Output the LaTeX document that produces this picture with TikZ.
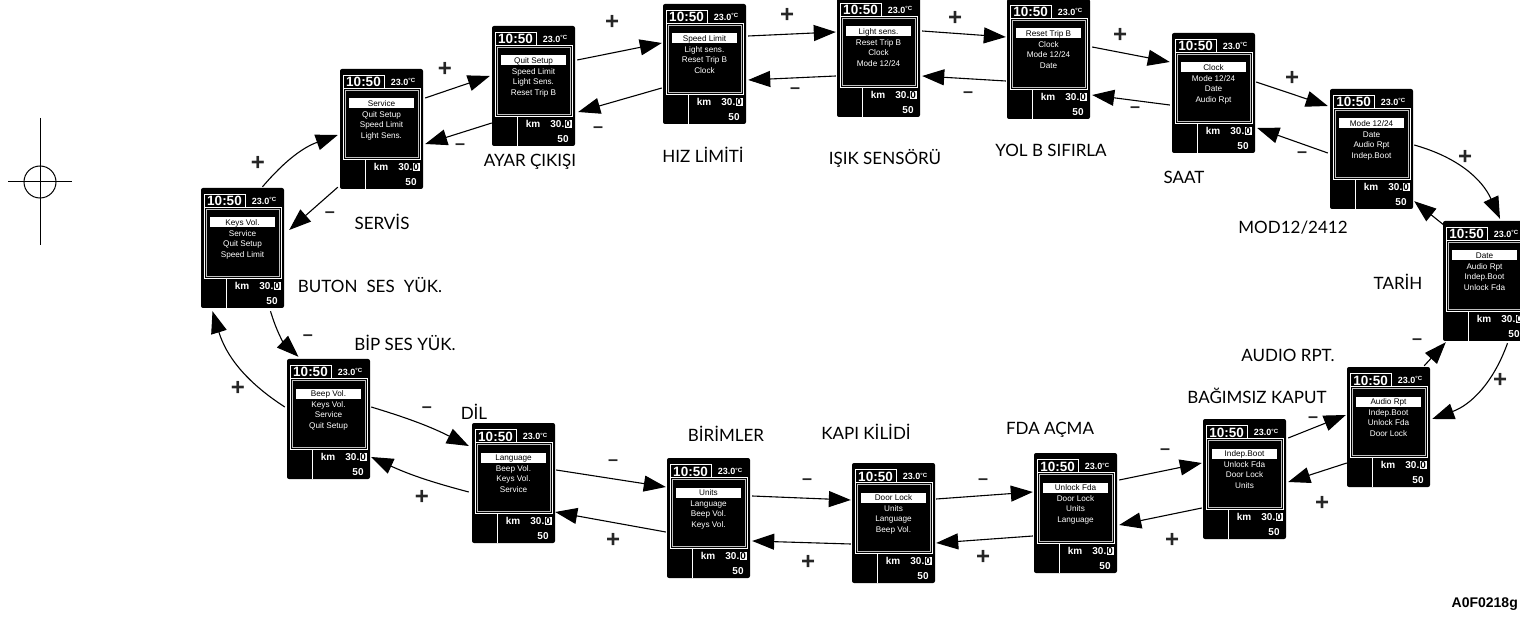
\documentclass[tikz,border=0pt]{standalone}
\usepackage{fontspec}
\setmainfont{Liberation Sans}
\newfontfamily\gillfont{Lato}
\usepackage{tikz}
\usetikzlibrary{arrows.meta}

% one instrument display: name, top-left x, top-left y, four menu lines
\newcommand{\screen}[7]{%
  \node[screen] (#1) at (#2+41.5,#3+60) {};
  \begin{scope}[shift={(#2,#3)}]
    \draw[rim] (3,19) -- (3,6) -- (44,6) -- (44,19);
    \draw[rim] (3,19) rectangle (80,90);
    \draw[rim, draw=black!25] (5,21) rectangle (78,88);
    \node[timefont, anchor=base] (#1-time) at (23.5,18) {10:50};
    \node[tempfont, anchor=base] (#1-temp) at (63,16.5) {23.0\raisebox{2.5pt}{\fontsize{6}{6}\selectfont °C}};
    \fill[white] (9,29.5) rectangle (74,39.5);
    \node[item, text=black] (#1-a) at (41.5,37.4) {#4};
    \node[item] (#1-b) at (41.5,48.1) {#5};
    \node[item] (#1-c) at (41.5,58.8) {#6};
    \node[item] (#1-d) at (41.5,69.5) {#7};
    \draw[rim] (25,90) -- (25,120);
    \node[readout] (#1-km) at (41,101.5) {km};
    \node[readout, anchor=base east] (#1-odo) at (72.5,101.5) {30.};
    \node[readout, fill=white, text=black, inner sep=0.7pt] (#1-dec) at (76.2,101.5) {0};
    \node[readout] (#1-spd) at (71,116.5) {50};
  \end{scope}}

\begin{document}
\begin{tikzpicture}[
  x=1pt, y=-1pt,
  screen/.style={rectangle, fill=black, rounded corners=2pt, minimum width=83pt, minimum height=120pt, inner sep=0pt},
  rim/.style={draw=white, line width=0.8pt},
  item/.style={text=white, font=\fontsize{8.2}{9}\selectfont, inner sep=0pt, anchor=base},
  timefont/.style={text=white, font=\fontsize{13.5}{14}\selectfont\bfseries, inner sep=0pt},
  tempfont/.style={text=white, font=\fontsize{9}{10}\selectfont\bfseries, inner sep=0pt},
  readout/.style={text=white, font=\fontsize{10}{11}\selectfont\bfseries, inner sep=0pt, anchor=base},
  menuname/.style={font=\gillfont\fontsize{17}{18}\selectfont, inner sep=0pt},
  signp/.style={font=\fontsize{24}{24}\selectfont\bfseries, text=black!85, inner sep=0pt},
  signm/.style={font=\fontsize{18}{18}\selectfont\bfseries, text=black!85, inner sep=0pt},
  pipe/.style={draw, -{Triangle[length=22pt, width=16pt]}, line width=1.1pt},
]
\useasboundingbox (0,0) rectangle (1520,617);

% registration mark
\draw[line width=1pt] (40,182) circle[radius=16pt];
\draw[line width=1pt] (8,182) -- (72,182);
\draw[line width=1pt] (40,118) -- (40,245);

\screen{keys}{201}{188}{Keys Vol.}{Service}{Quit Setup}{Speed Limit}
\screen{serv}{340}{69}{Service}{Quit Setup}{Speed Limit}{Light Sens.}
\screen{quit}{492}{26}{Quit Setup}{Speed Limit}{Light Sens.}{Reset Trip B}
\screen{speed}{663}{4}{Speed Limit}{Light sens.}{Reset Trip B}{Clock}
\screen{light}{837}{-3}{Light sens.}{Reset Trip B}{Clock}{Mode 12/24}
\screen{reset}{1007}{-1}{Reset Trip B}{Clock}{Mode 12/24}{Date}
\screen{clock}{1172}{33}{Clock}{Mode 12/24}{Date}{Audio Rpt}
\screen{mode}{1330}{89}{Mode 12/24}{Date}{Audio Rpt}{Indep.Boot}
\screen{date}{1443}{221}{Date}{Audio Rpt}{Indep.Boot}{Unlock Fda}
\screen{audio}{1347}{367}{Audio Rpt}{Indep.Boot}{Unlock Fda}{Door Lock}
\screen{indep}{1203}{419}{Indep.Boot}{Unlock Fda}{Door Lock}{Units}
\screen{unlock}{1034}{453}{Unlock Fda}{Door Lock}{Units}{Language}
\screen{door}{852}{463}{Door Lock}{Units}{Language}{Beep Vol.}
\screen{units}{667}{458}{Units}{Language}{Beep Vol.}{Keys Vol.}
\screen{lang}{472}{423}{Language}{Beep Vol.}{Keys Vol.}{Service}
\screen{beep}{287}{359}{Beep Vol.}{Keys Vol.}{Service}{Quit Setup}

% menu names
\node[menuname] (n-keys) at (370,285) {BUTON\hspace{9pt}SES\hspace{9pt}YÜK.};
\node[menuname] (n-serv) at (382,222) {SERVİS};
\node[menuname] (n-quit) at (530,162) {AYAR ÇIKIŞI};
\node[menuname] (n-speed) at (703,155) {HIZ LİMİTİ};
\node[menuname] (n-light) at (885,158) {IŞIK SENSÖRÜ};
\node[menuname] (n-reset) at (1051,150) {YOL B SIFIRLA};
\node[menuname] (n-clock) at (1184,177) {SAAT};
\node[menuname] (n-mode) at (1293,228) {MOD12/2412};
\node[menuname] (n-date) at (1398,282) {TARİH};
\node[menuname] (n-audio) at (1288,355) {AUDIO RPT.};
\node[menuname] (n-indep) at (1257,396) {BAĞIMSIZ KAPUT};
\node[menuname] (n-unlock) at (1050,430) {FDA AÇMA};
\node[menuname] (n-door) at (866,432) {KAPI KİLİDİ};
\node[menuname] (n-units) at (726,434) {BİRİMLER};
\node[menuname] (n-lang) at (474,412) {DİL};
\node[menuname] (n-beep) at (405,343) {BİP SES YÜK.};
\node[font=\fontsize{14}{14}\selectfont\bfseries, anchor=east, inner sep=0pt] (figid) at (1518,604) {A0F0218g};

% + and - keys
\node[signp] (p1) at (258,163) {+};
\node[signm] (m1) at (330,215) {--};
\node[signp] (p2) at (445,69) {+};
\node[signm] (m2) at (460,147) {--};
\node[signp] (p3) at (612,22) {+};
\node[signm] (m3) at (598,130) {--};
\node[signp] (p4) at (787,15) {+};
\node[signm] (m4) at (795,91) {--};
\node[signp] (p5) at (955,18) {+};
\node[signm] (m5) at (968,95) {--};
\node[signp] (p6) at (1120,35) {+};
\node[signm] (m6) at (1135,110) {--};
\node[signp] (p7) at (1292,78) {+};
\node[signm] (m7) at (1302,155) {--};
\node[signp] (p8) at (1465,157) {+};
\node[signp] (p9) at (1500,380) {+};
\node[signm] (m9) at (1417,342) {--};
\node[signp] (p10) at (1322,503) {+};
\node[signm] (m10) at (1313,420) {--};
\node[signp] (p11) at (1172,540) {+};
\node[signm] (m11) at (1165,452) {--};
\node[signp] (p12) at (983,557) {+};
\node[signm] (m12) at (983,482) {--};
\node[signp] (p13) at (808,562) {+};
\node[signm] (m13) at (807,482) {--};
\node[signp] (p14) at (613,540) {+};
\node[signm] (m14) at (613,463) {--};
\node[signp] (p15) at (422,497) {+};
\node[signm] (m15) at (427,410) {--};
\node[signp] (p16) at (238,388) {+};
\node[signm] (m16) at (308,338) {--};

% connectors
\draw[pipe] ([shift={(20,-1)}]keys.north) to[bend left=15] ([shift={(-2,6)}]serv.west);
\draw[pipe] ([shift={(-2,-2)}]serv.south west) -- ([shift={(5,-18)}]keys.east);
\draw[pipe] ([shift={(2,-31)}]serv.east) -- ([shift={(-2,-10)}]quit.west);
\draw[pipe] ([shift={(0,37)}]quit.west) -- ([shift={(2,15)}]serv.east);
\draw[pipe] ([shift={(2,-26)}]quit.east) -- ([shift={(-1,-21)}]speed.west);
\draw[pipe] ([shift={(-1,24)}]speed.west) -- ([shift={(3,26)}]quit.east);
\draw[pipe] ([shift={(2,-28)}]speed.east) -- ([shift={(-1,-25)}]light.west);
\draw[pipe] ([shift={(-1,19)}]light.west) -- ([shift={(2,16)}]speed.east);
\draw[pipe] ([shift={(2,-26)}]light.east) -- ([shift={(-1,-22)}]reset.west);
\draw[pipe] ([shift={(-1,22)}]reset.west) -- ([shift={(2,19)}]light.east);
\draw[pipe] ([shift={(2,-12)}]reset.east) -- ([shift={(-2,-31)}]clock.west);
\draw[pipe] ([shift={(-2,12)}]clock.west) -- ([shift={(2,36)}]reset.east);
\draw[pipe] ([shift={(1,-11)}]clock.east) -- ([shift={(-2,-43)}]mode.west);
\draw[pipe] ([shift={(-2,4)}]mode.west) -- ([shift={(2,35)}]clock.east);
\draw[pipe] ([shift={(1,-4)}]mode.east) to[bend left=25] ([shift={(15.5,-2)}]date.north);
\draw[pipe] ([shift={(2,5)}]date.north west) -- ([shift={(1,-8)}]mode.south east);
\draw[pipe] ([shift={(23,2)}]date.south) to[bend left=25] ([shift={(2,-8)}]audio.east);
\draw[pipe] ([shift={(-6,-1)}]audio.north east) -- ([shift={(3,1)}]date.south west);
\draw[pipe] ([shift={(0,36)}]audio.west) -- ([shift={(2,3)}]indep.east);
\draw[pipe] ([shift={(2,-41)}]indep.east) -- ([shift={(-1,-12)}]audio.west);
\draw[pipe] ([shift={(-1,29)}]indep.west) -- ([shift={(2,12)}]unlock.east);
\draw[pipe] ([shift={(2,-33)}]unlock.east) -- ([shift={(-1,-16)}]indep.west);
\draw[pipe] ([shift={(-1,23)}]unlock.west) -- ([shift={(1,20)}]door.east);
\draw[pipe] ([shift={(1,-24)}]door.east) -- ([shift={(-1,-21)}]unlock.west);
\draw[pipe] ([shift={(-1,21)}]door.west) -- ([shift={(2,23)}]units.east);
\draw[pipe] ([shift={(2,-22)}]units.east) -- ([shift={(-1,-23)}]door.west);
\draw[pipe] ([shift={(-1,14)}]units.west) -- ([shift={(0,29)}]lang.east);
\draw[pipe] ([shift={(1,-13)}]lang.east) -- ([shift={(-1,-31)}]units.west);
\draw[pipe] ([shift={(-3,9)}]lang.west) to[bend left=5] ([shift={(1,38)}]beep.east);
\draw[pipe] ([shift={(1,-12)}]beep.east) to[bend left=5] ([shift={(-3,-37)}]lang.west);
\draw[pipe] ([shift={(-2,-12)}]beep.west) to[bend left=20] ([shift={(-30,3)}]keys.south);
\draw[pipe] ([shift={(28,3)}]keys.south) to[bend right=15] ([shift={(-30,-2)}]beep.north);
\end{tikzpicture}
\end{document}
